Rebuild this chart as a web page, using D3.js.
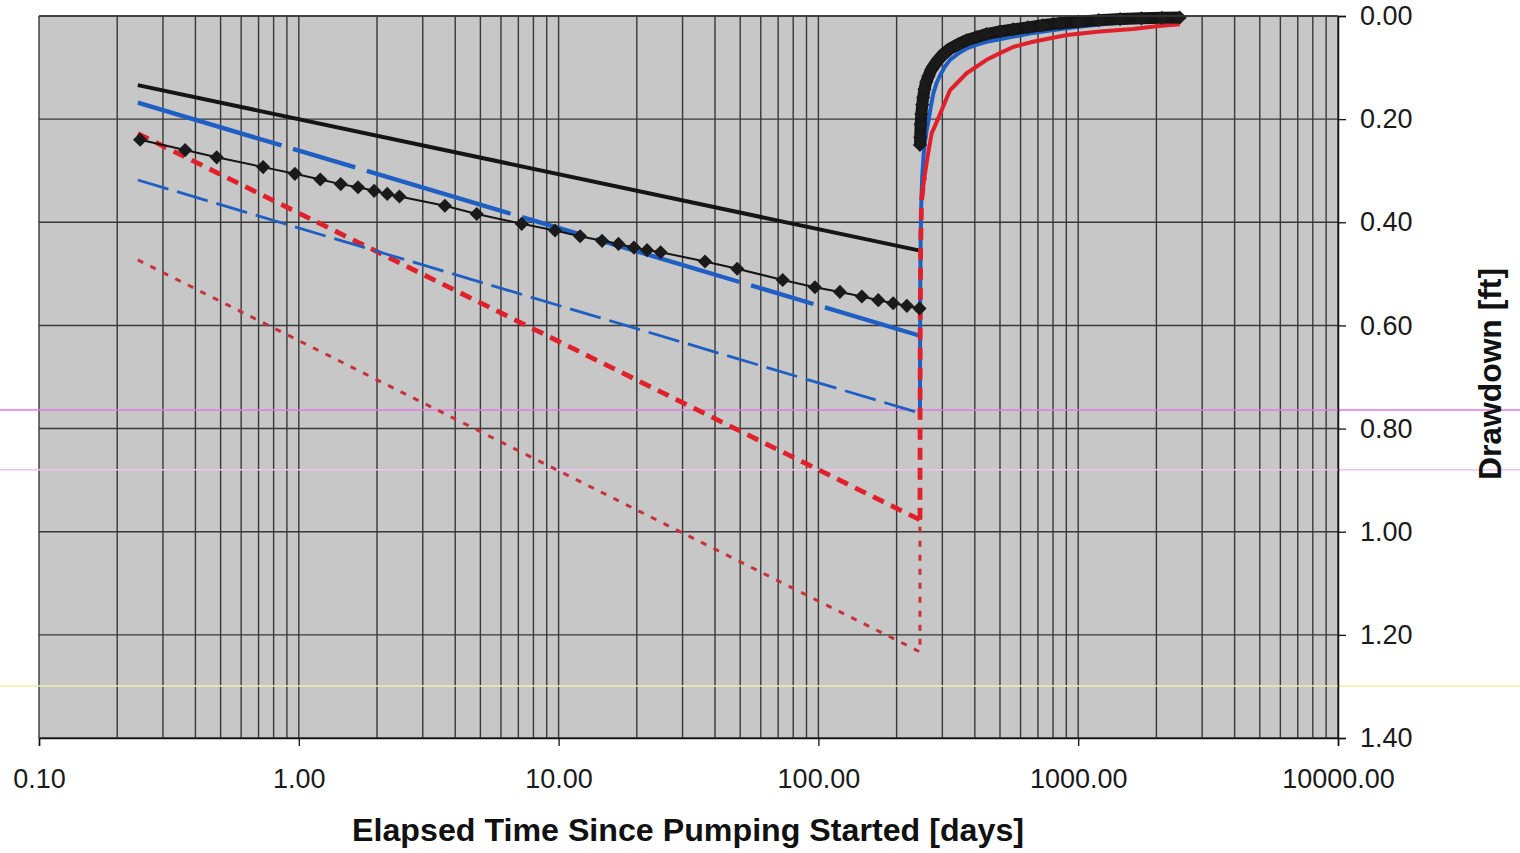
<!DOCTYPE html>
<html>
<head>
<meta charset="utf-8">
<script src="https://cdn.jsdelivr.net/npm/d3@7"></script>
<style>
  body { margin: 0; background: #fff; }
  text { font-family: Arial, "Liberation Sans", Helvetica, sans-serif; }
</style>
</head>
<body>
<div id="chart"></div>
<script>
// ---- data (time in days, drawdown in ft) ----
const xTickValues = [0.1, 1, 10, 100, 1000, 10000];
const yTickValues = [0, 0.2, 0.4, 0.6, 0.8, 1.0, 1.2, 1.4];

// observed drawdown while pumping
const obsPumpT = [0.245, 0.365, 0.483, 0.729, 0.966, 1.21, 1.45, 1.69, 1.95, 2.19, 2.44, 3.65, 4.84, 7.21, 9.69, 12.1, 14.7, 17.0, 19.5, 21.9, 24.7, 36.6, 48.7, 72.9, 97.0, 121, 147, 170, 194, 219, 245];
const obsPumpS = [0.240, 0.260, 0.274, 0.293, 0.306, 0.317, 0.326, 0.332, 0.339, 0.345, 0.350, 0.368, 0.384, 0.403, 0.416, 0.427, 0.436, 0.442, 0.449, 0.454, 0.458, 0.476, 0.490, 0.512, 0.526, 0.535, 0.544, 0.551, 0.557, 0.562, 0.567];

// observed recovery after pumping stopped
const obsRecT = [246, 246.5, 247.5, 249, 251, 253, 256, 260, 265, 272, 285, 300, 320, 345, 372, 405, 444, 500, 562, 640, 730, 850, 1000, 1200, 1450, 1750, 2100, 2460];
const obsRecS = [0.250, 0.235, 0.210, 0.190, 0.172, 0.158, 0.142, 0.128, 0.117, 0.104, 0.089, 0.076, 0.064, 0.055, 0.047, 0.041, 0.035, 0.030, 0.026, 0.022, 0.018, 0.014, 0.011, 0.008, 0.006, 0.0045, 0.0035, 0.003];

// model lines (pumping phase, straight on semi-log)
const modelBlackT = [0.24, 246];
const modelBlackS = [0.134, 0.455];
const modelBlueThickT = [0.24, 246];
const modelBlueThickS = [0.168, 0.620];
const modelBlueThinT = [0.24, 246];
const modelBlueThinS = [0.318, 0.770];
const modelRedDashT = [0.24, 246];
const modelRedDashS = [0.228, 0.977];
const modelRedDotT = [0.24, 246, 246];
const modelRedDotS = [0.473, 1.233, 0.977];

// model recovery curves
const recBlueT = [246, 246.5, 247.5, 249, 251, 254, 257, 261, 266, 271, 277, 285, 294, 307, 321, 345, 372, 405, 444, 500, 562, 650, 780, 1000, 1300, 1800, 2400];
const recBlueS = [0.770, 0.550, 0.430, 0.360, 0.310, 0.270, 0.246, 0.222, 0.200, 0.175, 0.150, 0.130, 0.115, 0.098, 0.085, 0.073, 0.063, 0.056, 0.050, 0.045, 0.040, 0.034, 0.028, 0.021, 0.015, 0.009, 0.005];
const recRedT = [246, 246.5, 247.5, 249.5, 256, 264.5, 273, 281, 294.5, 321, 372, 444, 500, 562, 669, 905, 1212, 1624, 2000, 2460];
const recRedS = [0.977, 0.600, 0.450, 0.357, 0.312, 0.266, 0.227, 0.213, 0.189, 0.144, 0.111, 0.085, 0.072, 0.060, 0.050, 0.037, 0.030, 0.025, 0.020, 0.016];

// faint scanner streaks across the page (drawdown level)
const streakS = [0.764, 0.880, 1.299];
const streakColors = ["#e27ae2", "#efc2ef", "#eeeea6"];

const zip = (t, s) => t.map((d, i) => ({ t: d, s: s[i] }));

// ---- layout ----
const width = 1520, height = 853;
const margin = { top: 16, right: 182, bottom: 115, left: 39 };

const x = d3.scaleLog()
    .domain([0.1, 10000])
    .range([margin.left, width - margin.right]);

const y = d3.scaleLinear()
    .domain([0, 1.4])
    .range([margin.top, height - margin.bottom]);

const svg = d3.select("#chart").append("svg")
    .attr("width", width)
    .attr("height", height);

// plot background
svg.append("rect")
    .attr("x", x(0.1))
    .attr("y", y(0))
    .attr("width", x(10000) - x(0.1))
    .attr("height", y(1.4) - y(0))
    .attr("fill", "#c7c7c7");

// grid
const grid = svg.append("g").attr("stroke", "#383838").attr("stroke-width", 1.4);
grid.selectAll("line.v")
    .data(x.ticks())
    .enter().append("line")
    .attr("x1", d => x(d)).attr("x2", d => x(d))
    .attr("y1", y(0)).attr("y2", y(1.4));
grid.selectAll("line.h")
    .data(yTickValues)
    .enter().append("line")
    .attr("x1", x(0.1)).attr("x2", x(10000))
    .attr("y1", d => y(d)).attr("y2", d => y(d));

// scanner streaks
svg.selectAll("line.streak")
    .data(streakS)
    .enter().append("line")
    .attr("x1", 0).attr("x2", width)
    .attr("y1", d => y(d)).attr("y2", d => y(d))
    .attr("stroke", (d, i) => streakColors[i])
    .attr("stroke-width", 1.5);

const line = d3.line().x(d => x(d.t)).y(d => y(d.s));

function drawLine(data, color, w, dash) {
    svg.append("path")
        .datum(data)
        .attr("d", line)
        .attr("fill", "none")
        .attr("stroke", color)
        .attr("stroke-width", w)
        .attr("stroke-linejoin", "round")
        .attr("stroke-dasharray", dash || null);
}

// model lines
drawLine(zip(modelRedDotT, modelRedDotS), "#c8303a", 3, "6 8");
drawLine(zip(modelRedDashT, modelRedDashS), "#e0202a", 4.8, "12 8");
drawLine(zip(modelBlueThinT, modelBlueThinS), "#1f5fc4", 2.8, "32 9");
drawLine(zip(modelBlueThickT, modelBlueThickS), "#1f5fc4", 4.4, "150 12 65 12");
drawLine(zip(modelBlackT, modelBlackS), "#151515", 4);

// recovery curves
drawLine(zip(recBlueT, recBlueS), "#1f5fc4", 4);
const red = zip(recRedT, recRedS);
drawLine(red.filter(d => d.s >= 0.3), "#e0202a", 4.8, "12 8");
drawLine(red.filter(d => d.s <= 0.36), "#e0202a", 4);

// observed data
const obsPump = zip(obsPumpT, obsPumpS);
const obsRec = zip(obsRecT, obsRecS);
drawLine(obsPump, "#151515", 2);
drawLine(obsRec, "#151515", 12);

const diamond = d3.symbol(d3.symbolSquare, 100);
svg.selectAll("path.obs")
    .data(obsPump.concat(obsRec))
    .enter().append("path")
    .attr("d", diamond)
    .attr("transform", d => `translate(${x(d.t)},${y(d.s)}) rotate(45)`)
    .attr("fill", "#1a1a1a");

// axes
const xAxis = d3.axisBottom(x)
    .tickValues(xTickValues)
    .tickFormat(d3.format(".2f"))
    .tickSize(8)
    .tickPadding(23);

svg.append("g")
    .attr("transform", `translate(0,${y(1.4)})`)
    .call(xAxis)
    .call(g => g.select(".domain").attr("stroke", "#111").attr("stroke-width", 1.5))
    .call(g => g.selectAll(".tick line").attr("stroke", "#111").attr("stroke-width", 1.3))
    .selectAll("text")
    .attr("fill", "#1a1a1a")
    .style("font-size", "27px");

const yAxis = d3.axisRight(y)
    .tickValues(yTickValues)
    .tickFormat(d3.format(".2f"))
    .tickSize(8)
    .tickPadding(14);

svg.append("g")
    .attr("transform", `translate(${x(10000)},0)`)
    .call(yAxis)
    .call(g => g.select(".domain").attr("stroke", "#111").attr("stroke-width", 1.5))
    .call(g => g.selectAll(".tick line").attr("stroke", "#111").attr("stroke-width", 1.3))
    .selectAll("text")
    .attr("fill", "#1a1a1a")
    .style("font-size", "27px");

// plot frame top
svg.append("line")
    .attr("x1", x(0.1)).attr("x2", x(10000))
    .attr("y1", y(0)).attr("y2", y(0))
    .attr("stroke", "#383838").attr("stroke-width", 1.5);

// axis titles
svg.append("text")
    .attr("x", 688)
    .attr("y", 841)
    .attr("text-anchor", "middle")
    .attr("textLength", 672)
    .attr("lengthAdjust", "spacingAndGlyphs")
    .style("font-size", "31px")
    .style("font-weight", "bold")
    .attr("fill", "#111")
    .text("Elapsed Time Since Pumping Started [days]");

svg.append("text")
    .attr("transform", "translate(1501,374) rotate(-90)")
    .attr("text-anchor", "middle")
    .attr("textLength", 212)
    .attr("lengthAdjust", "spacingAndGlyphs")
    .style("font-size", "31px")
    .style("font-weight", "bold")
    .attr("fill", "#111")
    .text("Drawdown [ft]");
</script>
</body>
</html>
